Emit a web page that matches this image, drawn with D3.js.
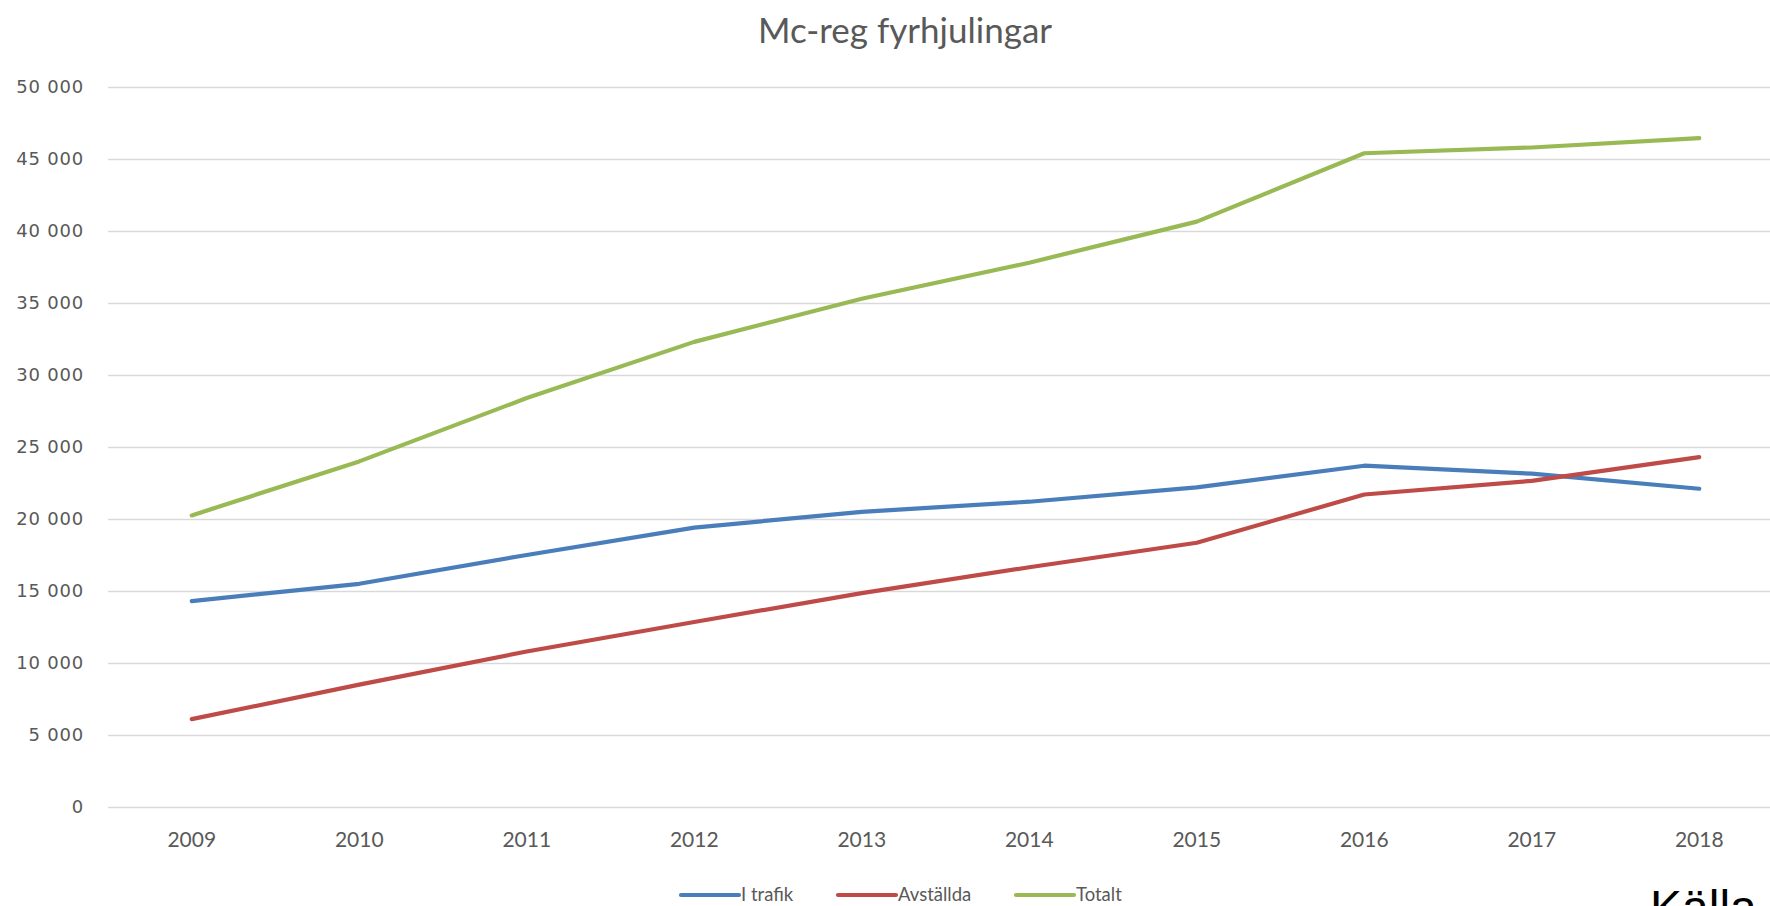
<!DOCTYPE html>
<html>
<head>
<meta charset="utf-8">
<script src="https://cdn.jsdelivr.net/npm/d3@7"></script>
<style>
  body { margin: 0; background: #fff; overflow: hidden; }
</style>
</head>
<body>
<div id="chart"></div>
<script>
// chart data
const years = ["2009", "2010", "2011", "2012", "2013", "2014", "2015", "2016", "2017", "2018"];
const iTrafik = [14300, 15500, 17500, 19400, 20500, 21200, 22200, 23700, 23150, 22100];
const avstallda = [6100, 8500, 10800, 12850, 14850, 16650, 18350, 21700, 22650, 24300];
const totalt = [20250, 24000, 28400, 32300, 35300, 37800, 40650, 45400, 45800, 46450];
const yTicks = [0, 5000, 10000, 15000, 20000, 25000, 30000, 35000, 40000, 45000, 50000];
const seriesNames = ["I trafik", "Avställda", "Totalt"];

const width = 1770;
const height = 906;
const colors = { "I trafik": "#4A7EBB", "Avställda": "#BE4B48", "Totalt": "#98B954" };

let svg = d3.select("#chart")
  .append("svg")
  .attr("width", width)
  .attr("height", height);

// plot area runs a bit past the right edge, like the cropped original
let x = d3.scaleBand()
  .domain(years)
  .range([108, 1783]);

let y = d3.scaleLinear()
  .domain([0, 50000])
  .range([807, 87]);

// title
svg.append("text")
  .attr("x", 905)
  .attr("y", 43)
  .attr("text-anchor", "middle")
  .style("font-family", "Lato, 'Open Sans', sans-serif")
  .style("font-size", "35px")
  .attr("fill", "#595959")
  .text("Mc-reg fyrhjulingar");

// gridlines + y labels
let yAxis = svg.append("g")
  .attr("transform", "translate(108,0)")
  .call(d3.axisLeft(y)
    .tickValues(yTicks)
    .tickSize(-(1783 - 108))
    .tickPadding(24)
    .tickFormat(d => d3.format(",")(d).replace(",", " ")));

yAxis.select(".domain").remove();
yAxis.selectAll(".tick line")
  .attr("stroke", "#D9D9D9")
  .attr("stroke-width", 1.5);
yAxis.selectAll(".tick text")
  .style("font-family", "'DejaVu Sans', Verdana, sans-serif")
  .style("font-size", "18px")
  .style("letter-spacing", "0.8px")
  .attr("fill", "#595959");

// x labels
let xAxis = svg.append("g")
  .attr("transform", "translate(0,807)")
  .call(d3.axisBottom(x).tickSize(0).tickPadding(25));

xAxis.select(".domain").remove();
xAxis.selectAll(".tick text")
  .style("font-family", "Lato, 'Open Sans', sans-serif")
  .style("font-size", "21px")
  .attr("fill", "#595959");

// lines
let seriesData = [
  { name: "I trafik", values: iTrafik },
  { name: "Avställda", values: avstallda },
  { name: "Totalt", values: totalt }
];

let line = d3.line()
  .x((d, i) => x(years[i]) + x.bandwidth() / 2)
  .y(d => y(d));

svg.append("g")
  .selectAll("path")
  .data(seriesData)
  .enter()
    .append("path")
    .attr("d", d => line(d.values))
    .attr("fill", "none")
    .attr("stroke", d => colors[d.name])
    .attr("stroke-width", 4.2)
    .attr("stroke-linejoin", "round")
    .attr("stroke-linecap", "round");

// legend
let legendX = [681, 838, 1016];
let legend = svg.append("g")
  .selectAll("g")
  .data(seriesNames)
  .enter()
    .append("g")
    .attr("transform", (d, i) => "translate(" + legendX[i] + ",895)");

legend.append("line")
  .attr("x1", 0)
  .attr("x2", 58)
  .attr("stroke", d => colors[d])
  .attr("stroke-width", 4.2)
  .attr("stroke-linecap", "round");

legend.append("text")
  .attr("x", 60)
  .attr("y", 6)
  .style("font-family", "Lato, 'Open Sans', sans-serif")
  .style("font-size", "18.5px")
  .attr("fill", "#595959")
  .text(d => d);

// source text, cut off at the bottom edge
svg.append("text")
  .attr("x", 1650)
  .attr("y", 924)
  .style("font-family", "'Liberation Sans', Arial, sans-serif")
  .style("font-size", "48px")
  .attr("fill", "#000")
  .text("Källa");
</script>
</body>
</html>
